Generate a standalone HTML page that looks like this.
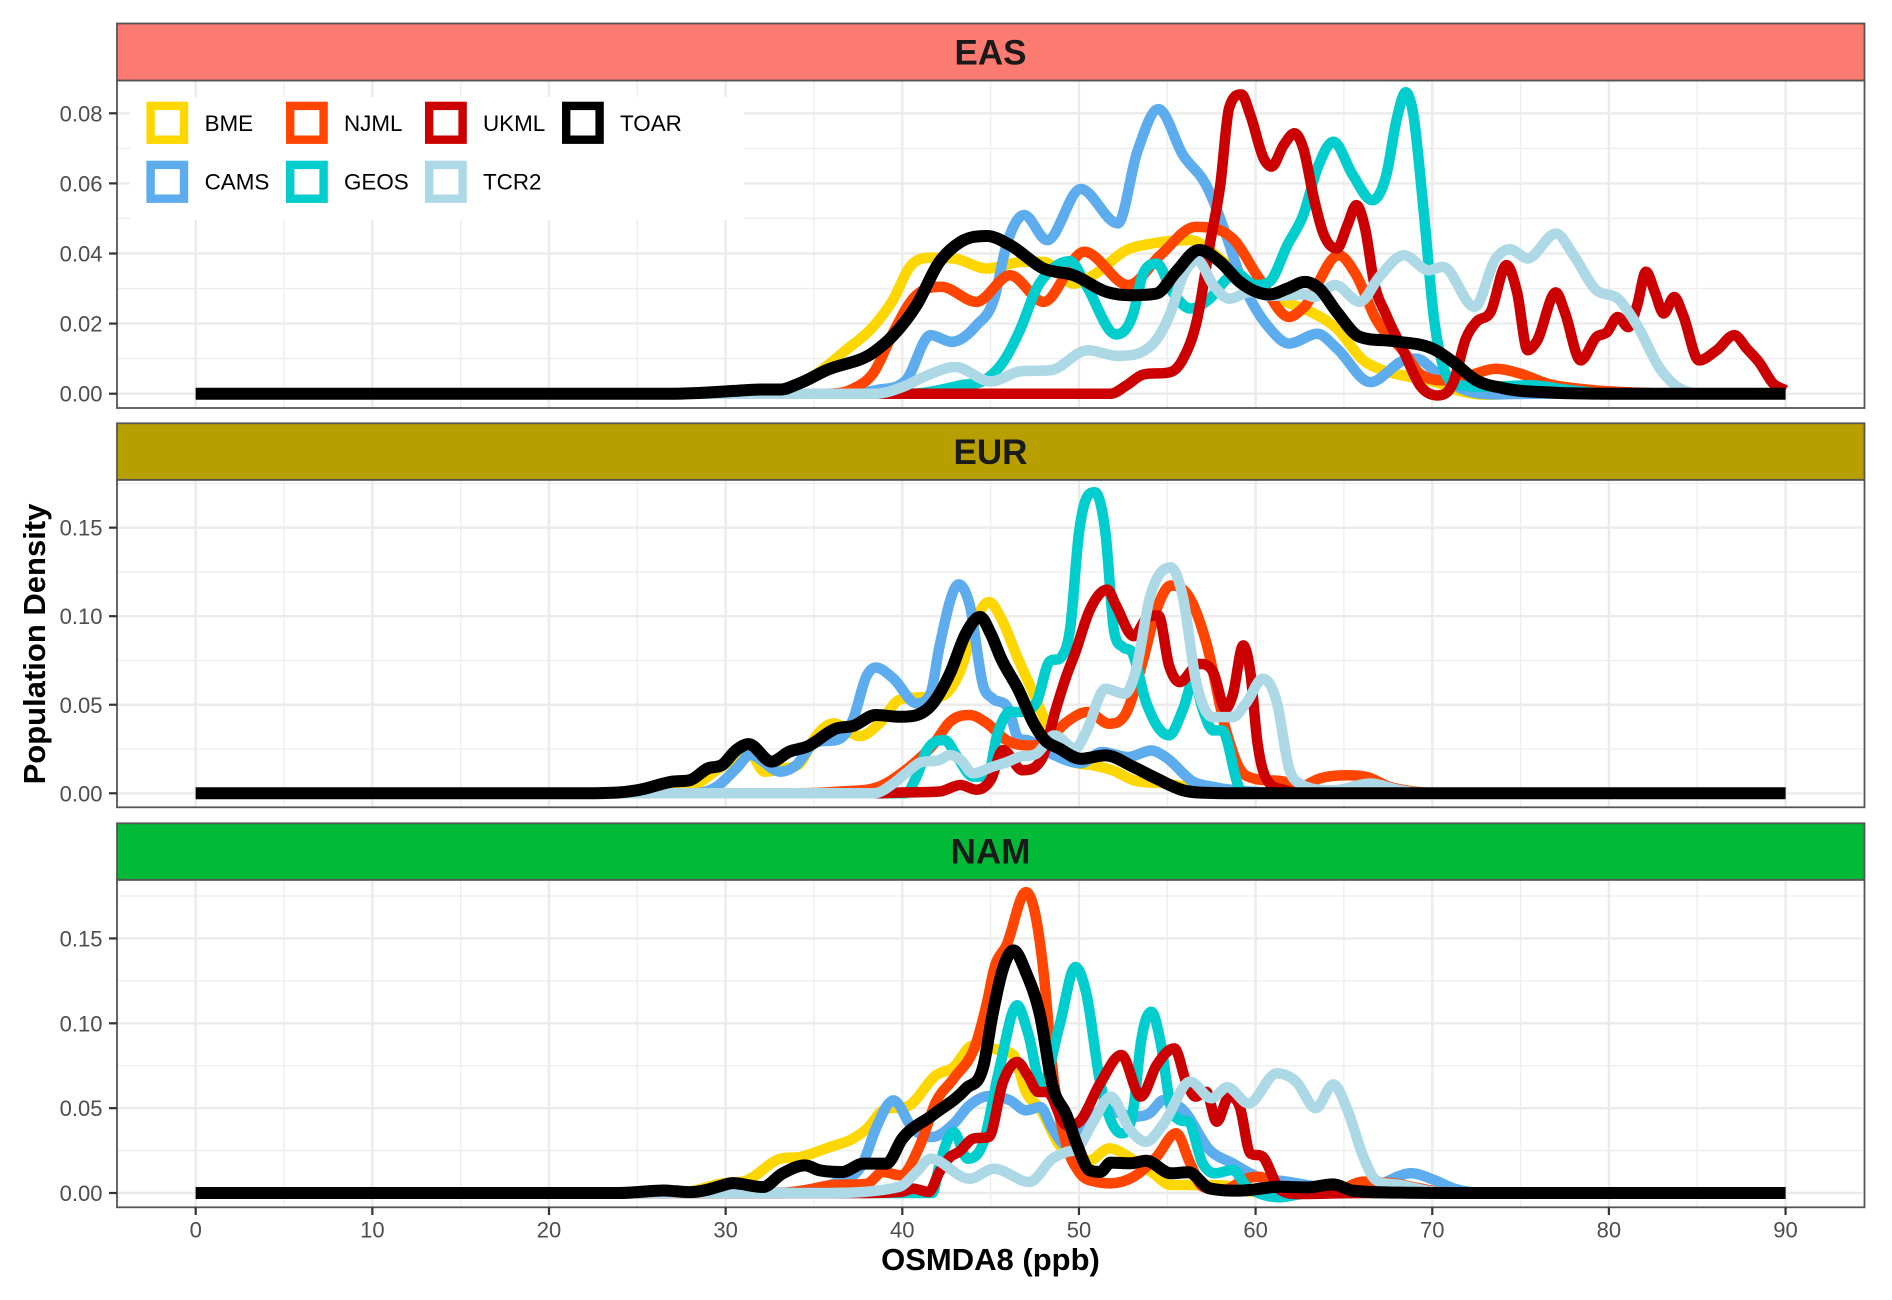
<!DOCTYPE html>
<html lang="en">
<head>
<meta charset="utf-8">
<title>Population density of OSMDA8 by region</title>
<style>
html,body{margin:0;padding:0;background:#fff;width:1892px;height:1300px;overflow:hidden}
svg{display:block;font-family:"Liberation Sans",Arial,sans-serif}
</style>
</head>
<body>
<svg id="chart" width="1892" height="1300" viewBox="0 0 1892 1300">
  <g id="panels"></g>
  <text x="990.5" y="1270" font-size="31" font-weight="700" text-anchor="middle" fill="#000">OSMDA8 (ppb)</text>
  <text transform="translate(45 644) rotate(-90)" font-size="31" font-weight="700" text-anchor="middle" fill="#000">Population Density</text>
  <g id="legend"></g>
</svg>
<script>
// ---- Data: density values, [OSMDA8 ppb, density] ----
const xTicks = [0,10,20,30,40,50,60,70,80,90];
const xMinorTicks = [5,15,25,35,45,55,65,75,85];
const easTicks = [0,0.02,0.04,0.06,0.08];
const easMinorTicks = [0.01,0.03,0.05,0.07];
const eurTicks = [0,0.05,0.10,0.15];
const eurMinorTicks = [0.025,0.075,0.125,0.175];
const namTicks = [0,0.05,0.10,0.15];
const namMinorTicks = [0.025,0.075,0.125,0.175];

const easBME = [[0,0],[29,0],[31,.0002],[32,.0004],[33,.001],[34.2,.003],[35,.0052],[36.7,.012],[38.5,.02],[39.5,.027],[40.4,.036],[41.6,.0388],[42.9,.0386],[44.8,.0357],[46.8,.0376],[48,.0376],[49.7,.0314],[50.8,.0338],[52.7,.041],[54.2,.0429],[56.3,.0438],[58.2,.0376],[59.8,.031],[61.8,.026],[63.3,.0229],[64.6,.0186],[66.1,.0095],[67.2,.0067],[68.7,.0048],[70.2,.0033],[71.4,.001],[73,-.0003],[75,0],[90,0]];
const easCAMS = [[0,0],[36,0],[38.5,.001],[40.2,.0038],[41.6,.0167],[42.8,.0148],[44.2,.0195],[45.2,.0271],[45.9,.0424],[46.9,.051],[48.2,.0438],[50.1,.0584],[52.2,.0486],[53.3,.069],[54.5,.0812],[55.9,.068],[57.2,.0595],[58.4,.0443],[59.1,.0338],[60.8,.0186],[61.9,.0143],[63.5,.0171],[64.6,.0129],[66.5,.0033],[68.4,.0095],[69.1,.01],[70.2,.0062],[71.4,.002],[73.6,-.0002],[76,0],[90,0]];
const easNJML = [[0,0],[35.7,0],[37.2,.0014],[38.4,.0062],[39.5,.0176],[40.6,.0271],[42.2,.0305],[44.2,.0262],[46.1,.0338],[48,.0262],[50.3,.0405],[52.8,.031],[54.6,.0395],[56.6,.0476],[58.7,.0443],[60.2,.0329],[61.9,.0219],[62.7,.0245],[64.7,.0395],[65.7,.0338],[66.8,.0214],[68.4,.0119],[69.3,.0057],[70.8,.0038],[72.1,.0052],[73.6,.0071],[75,.0057],[76.5,.0029],[78.7,.0012],[81.6,.0003],[85,0],[90,0]];
const easGEOS = [[0,0],[40.4,0],[43.3,.0024],[44.8,.0043],[45.7,.009],[46.7,.0186],[47.6,.03],[48.5,.0357],[49.5,.0378],[50.4,.031],[52.1,.0169],[53.1,.0233],[53.6,.0338],[54.4,.0371],[55.3,.029],[56.3,.0243],[57.4,.0271],[58.4,.0329],[58.9,.0343],[60,.031],[60.8,.032],[61.8,.0424],[62.7,.051],[63.5,.0643],[64.4,.0719],[65.5,.0624],[66.6,.0552],[67.4,.0624],[68,.0786],[68.5,.086],[68.9,.0805],[69.5,.0529],[70.1,.0214],[70.6,.0081],[71.6,.0024],[73.3,.002],[75.5,.0024],[77.8,.001],[80,0],[90,0]];
const easUKML = [[0,0],[51.8,0],[52.7,.0024],[53.6,.0054],[55.2,.0062],[55.9,.01],[56.7,.0214],[57.4,.0424],[58,.0595],[58.5,.0815],[59.2,.0854],[59.7,.0795],[60.5,.0667],[60.9,.0648],[61.6,.071],[62.2,.0743],[62.7,.07],[63.3,.0557],[63.8,.0462],[64.6,.0414],[65.2,.0481],[65.7,.0538],[66.2,.0471],[66.7,.0319],[67.4,.0224],[68.4,.0119],[69.3,.0024],[70.3,-.0005],[71.2,.0033],[71.9,.0157],[72.5,.0205],[73.3,.0233],[74.2,.0367],[74.8,.029],[75.4,.0124],[75.9,.0148],[77,.0289],[77.5,.0233],[78.4,.0095],[79.3,.0162],[79.9,.0176],[80.5,.0219],[81.1,.019],[81.6,.0252],[82.1,.0348],[82.6,.029],[83.1,.0229],[83.7,.0276],[84.2,.0224],[85.1,.0095],[86.1,.0124],[87.1,.0167],[87.8,.0129],[88.5,.009],[89.3,.0029],[90,.001]];
const easTCR2 = [[0,0],[38.5,0],[40,.0019],[41.4,.0052],[43,.0076],[45,.0035],[46.7,.0064],[48.4,.0067],[50.5,.0124],[52.2,.0108],[54.2,.0143],[55.2,.0233],[55.9,.0338],[56.7,.0381],[57.6,.031],[58.5,.0271],[59.7,.029],[60.8,.0279],[62.8,.0283],[63.3,.0276],[64.5,.031],[65.9,.0262],[67,.0333],[68.4,.0395],[69.8,.0352],[70.6,.0362],[72.4,.0248],[73.6,.0386],[74.4,.0412],[75.4,.0386],[77,.0457],[78,.0395],[79.2,.03],[80.6,.0267],[81.6,.0195],[82.9,.0071],[84.2,.001],[85.5,0],[90,0]];
const easTOAR = [[0,0],[27,0],[28.5,.0002],[30.5,.0008],[32,.0012],[33.1,.0012],[34.2,.003],[35.7,.0067],[38.4,.0119],[39.5,.0167],[40.8,.0252],[42.1,.0376],[43.3,.0433],[44.8,.045],[46.1,.0424],[48,.0357],[49.7,.0338],[51.6,.029],[52.9,.0281],[54.4,.0286],[55.5,.0348],[56.8,.041],[58,.0376],[59.1,.0319],[60.8,.0283],[61.8,.03],[62.8,.0319],[63.6,.03],[64.6,.0233],[65.9,.0162],[67.8,.015],[70.2,.0124],[71.2,.009],[72.5,.0038],[74,.0016],[76.8,.0003],[80,0],[90,0]];

const eurBME = [[0,0],[25,0],[27,.001],[28.3,.0047],[29.5,.0132],[30.6,.0197],[31.4,.0216],[32.2,.0122],[33.3,.0141],[34.2,.0169],[35.1,.032],[36.1,.0395],[37.6,.0323],[38.7,.0395],[39.8,.0526],[40.8,.0541],[42.1,.0545],[43.3,.0695],[44.2,.0987],[44.9,.108],[45.6,.0987],[46.5,.0771],[47.4,.057],[48.3,.0365],[48.9,.027],[49.7,.0177],[50.8,.0158],[51.9,.013],[53.1,.0073],[54.9,.0055],[56.8,.0026],[58.7,.0006],[60,0],[90,0]];
const eurCAMS = [[0,0],[28,0],[29.5,.0038],[30.6,.014],[31.4,.0216],[33.1,.0122],[34,.016],[35,.0282],[36.5,.031],[37.2,.0414],[38,.0667],[38.5,.071],[39.5,.0648],[40.8,.0508],[41.6,.0564],[42.1,.0827],[43.2,.118],[43.8,.107],[44.6,.06],[45.1,.0536],[46,.0477],[46.6,.0308],[47.1,.03],[48.5,.022],[50.1,.017],[51.3,.0233],[52.8,.0205],[54.1,.0242],[54.9,.0205],[56.5,.0064],[57.6,.0036],[60.6,.0005],[63,0],[90,0]];
const eurNJML = [[0,0],[34,0],[36.5,.001],[38.7,.0038],[40.2,.0132],[41.8,.0282],[42.7,.0404],[43.8,.0442],[44.8,.0395],[45.9,.03],[46.7,.0273],[47.4,.027],[48.3,.0308],[49.3,.0402],[50.5,.0459],[51.7,.0393],[52.7,.0459],[53.6,.074],[54.4,.104],[55.2,.1173],[56.3,.1098],[57.2,.0853],[58.3,.0365],[59.1,.0139],[59.8,.0086],[61.7,.0064],[62.5,.0036],[63.6,.0083],[65.1,.0102],[66.3,.0092],[67.6,.0036],[69.1,.0008],[71,0],[90,0]];
const eurGEOS = [[0,0],[40.2,0],[40.8,.0094],[41.4,.0244],[42.4,.03],[43.1,.0207],[44,.0094],[44.8,.0094],[45.4,.0338],[46.1,.0459],[46.6,.0459],[47.6,.0515],[48.3,.074],[49,.0769],[49.5,.0929],[50,.147],[50.9,.17],[51.5,.147],[52,.091],[52.5,.0825],[53,.0797],[53.8,.0515],[55.1,.0327],[55.9,.0477],[56.5,.064],[57,.0477],[57.6,.0355],[58.1,.0355],[59.1,.0026],[59.6,0],[90,0]];
const eurUKML = [[0,0],[38.4,0],[40.2,.0005],[42.1,.001],[43.3,.0047],[44.2,.002],[45,.0075],[45.7,.0244],[46.8,.013],[47.9,.0195],[48.7,.0477],[49.3,.0665],[49.8,.0797],[50.6,.1032],[51.6,.115],[52.1,.106],[53.1,.0887],[53.8,.0985],[54.5,.1004],[55.1,.0722],[55.7,.0628],[56.8,.0731],[57.6,.0684],[58.3,.0477],[58.7,.0553],[59.3,.0835],[59.7,.0684],[60.1,.029],[60.6,.0083],[61.7,.0017],[63,0],[90,0]];
const eurTCR2 = [[0,0],[38.4,0],[39.5,.0056],[40.2,.0113],[41,.0173],[42.1,.0188],[42.7,.0216],[43.3,.0188],[44,.0113],[45.1,.015],[45.9,.0175],[46.6,.0205],[47.6,.0224],[48.6,.0327],[49.8,.0252],[50.4,.0346],[51.5,.059],[52.6,.0562],[53.2,.0684],[54,.11],[55.2,.1276],[55.9,.11],[56.6,.0647],[57.6,.043],[58.7,.043],[59.5,.0515],[60.4,.0647],[61.2,.0515],[61.9,.0139],[62.5,.0055],[64.4,.0017],[66.5,.0055],[68.2,.0017],[70,0],[90,0]];
const eurTOAR = [[0,0],[22,0],[24,.0005],[25.1,.0019],[27,.0066],[28,.0075],[29,.0141],[29.8,.016],[30.6,.0244],[31.3,.0278],[32.6,.0179],[33.6,.0235],[34.6,.0263],[36.3,.0367],[37.2,.038],[38.5,.0442],[39.9,.0432],[41.8,.0517],[42.7,.0677],[43.6,.0902],[44.4,.0996],[45,.0902],[45.6,.076],[46.6,.058],[47.4,.0402],[48,.0308],[48.9,.0252],[50.1,.0195],[51.5,.0214],[53.1,.0148],[54.4,.0083],[55.9,.0017],[57.6,.0002],[60,0],[90,0]];

const namBME = [[0,0],[26,0],[28,.001],[29.7,.0055],[31.2,.0075],[33.1,.0202],[34.2,.0212],[35.9,.0271],[37.2,.032],[38,.0379],[38.9,.0487],[40.4,.0516],[41.9,.0693],[42.9,.0742],[44,.087],[45.5,.0841],[46.3,.0811],[47,.0595],[47.8,.0497],[48.9,.0281],[49.8,.021],[50.6,.0192],[51.7,.0263],[53.1,.0194],[54.2,.0116],[55.2,.0047],[56.8,.0047],[58.2,.0045],[59.7,.0008],[62,0],[90,0]];
const namCAMS = [[0,0],[33,0],[34.4,.0015],[36.3,.0065],[37.8,.0183],[38.5,.0379],[39.5,.0546],[40.6,.0379],[41.7,.033],[42.9,.0408],[43.8,.0516],[44.9,.0571],[46.1,.0546],[47,.0487],[47.8,.0507],[48.5,.0379],[49.3,.0281],[50.3,.038],[51.3,.049],[53.2,.045],[54,.047],[54.8,.0548],[55.9,.0489],[57.4,.0253],[58.7,.0175],[60.1,.0096],[61.8,.0067],[63.5,.0037],[65.3,.0018],[66.9,.0047],[68.8,.0116],[70.1,.0077],[71.2,.0027],[73,0],[90,0]];
const namNJML = [[0,0],[33,0],[34.4,.0015],[35.9,.0045],[38,.0055],[38.9,.0124],[39.9,.0104],[41,.0281],[41.9,.0536],[42.9,.0674],[44.2,.089],[44.8,.1125],[45.2,.1322],[45.9,.146],[47,.1773],[47.5,.1656],[48,.13],[48.5,.0733],[49.3,.0281],[50,.0124],[51,.0065],[51.8,.0057],[53.1,.0096],[54.4,.0214],[55.5,.0352],[56.3,.0175],[57,.0037],[58.2,.0018],[59.5,.0086],[60.2,.0096],[61.2,.0037],[62.9,.0008],[64.4,.0008],[66.1,.0067],[67.8,.0057],[69.3,.0027],[71,0],[90,0]];
const namGEOS = [[0,0],[41.7,0],[42.1,.0163],[42.9,.0359],[43.7,.0202],[44.6,.03],[45.5,.0733],[46.5,.1106],[47.1,.0949],[47.9,.0634],[48.9,.0988],[49.8,.1332],[50.4,.1184],[51.2,.0654],[52.4,.0352],[53.1,.0509],[53.5,.0882],[54.1,.1068],[54.6,.0901],[55.2,.0509],[55.7,.043],[56.2,.042],[57,.0175],[57.7,.0116],[58.7,.0136],[59.5,.0037],[60.2,-.0002],[61.4,-.0025],[62.9,-.0002],[65,0],[90,0]];
const namUKML = [[0,0],[37.2,0],[39.9,.0006],[40.6,.0026],[41.5,.0006],[42.1,.0124],[42.7,.0212],[43.2,.0242],[44,.032],[44.9,.033],[45.7,.0654],[46.5,.0772],[47.1,.0693],[47.7,.0595],[48.2,.0595],[49.3,.0399],[50,.0418],[51.2,.0646],[52.4,.0813],[53.5,.0568],[54.4,.0754],[55.4,.0852],[56.1,.0646],[56.6,.0568],[57.2,.0597],[57.8,.042],[58.5,.0568],[59.1,.0509],[59.7,.0234],[60.4,.0214],[61.4,.0018],[62.5,-.0006],[66,0],[90,0]];
const namTCR2 = [[0,0],[35.3,0],[39.8,.0035],[40.8,.0124],[41.6,.0202],[43.8,.0084],[45.2,.0143],[47.2,.0065],[48.5,.0202],[49.3,.0242],[49.9,.0261],[50.8,.0418],[51.8,.0568],[52.9,.0371],[53.8,.0302],[54.8,.041],[56.3,.0656],[57.5,.0558],[58.4,.0623],[59.6,.0528],[61.2,.0705],[62.3,.0656],[63.4,.05],[64.4,.064],[65.2,.0489],[66.1,.0214],[66.8,.0077],[68.2,.0047],[70.1,.0008],[72,0],[90,0]];
const namTOAR = [[0,0],[24,0],[26.5,.0015],[27.2,.001],[28,.0005],[29,.002],[29.7,.0041],[30.4,.0058],[32.1,.0035],[33.2,.0114],[34.5,.0163],[35.3,.0134],[36.6,.0124],[37.8,.0173],[39.1,.0173],[40,.032],[41.7,.0458],[43.6,.0615],[44.6,.0752],[45.1,.1047],[45.7,.1322],[46.3,.143],[47,.13],[47.8,.1047],[48.5,.0634],[49.3,.0458],[49.9,.0281],[50.6,.0134],[51.2,.0124],[51.8,.0179],[52.9,.0175],[53.8,.019],[55.2,.0116],[56.2,.0122],[57.4,.0027],[59.1,.0014],[61.4,.0037],[62.9,.0033],[64.4,.0051],[65.5,.0014],[68.2,.0002],[72,0],[90,0]];

const seriesNames = ["BME","CAMS","NJML","GEOS","UKML","TCR2","TOAR"];
const easSeries = [easBME,easCAMS,easNJML,easGEOS,easUKML,easTCR2,easTOAR];
const eurSeries = [eurBME,eurCAMS,eurNJML,eurGEOS,eurUKML,eurTCR2,eurTOAR];
const namSeries = [namBME,namCAMS,namNJML,namGEOS,namUKML,namTCR2,namTOAR];
const regionNames = ["EAS","EUR","NAM"];

// ---- Styling and layout ----
const colors = {BME:"#FFD700",CAMS:"#5CACEE",NJML:"#FF4500",GEOS:"#00CDCD",UKML:"#CC0000",TCR2:"#ADD8E6",TOAR:"#000000"};
const panelLeft = 117, panelRight = 1864.5;
const layout = [
  {strip:"#FB7A72", top:23.5, mid:80.5,  bottom:408,    textY:64.5,  zero:393.7, scale:3505, decimals:2, ticks:easTicks, minor:easMinorTicks, series:easSeries},
  {strip:"#B79F00", top:423.3,mid:479.8, bottom:807.3,  textY:464,   zero:793.3, scale:1771, decimals:2, ticks:eurTicks, minor:eurMinorTicks, series:eurSeries},
  {strip:"#00BA38", top:823.3,mid:879.8, bottom:1207.3, textY:863.5, zero:1193,  scale:1697, decimals:2, ticks:namTicks, minor:namMinorTicks, series:namSeries}
];
function xScale(v){ return 195.7 + v * 17.665; }

const NS = "http://www.w3.org/2000/svg";
function make(tag, attrs, parent){
  const el = document.createElementNS(NS, tag);
  for (const k in attrs) el.setAttribute(k, attrs[k]);
  parent.appendChild(el);
  return el;
}

// Smooth monotone cubic (Fritsch-Carlson limited) through the points
function curvePath(pts){
  const n = pts.length, m = new Array(n), d = new Array(n-1);
  for (let i=0;i<n-1;i++) d[i] = (pts[i+1][1]-pts[i][1])/(pts[i+1][0]-pts[i][0]);
  m[0] = d[0]; m[n-1] = d[n-2];
  for (let i=1;i<n-1;i++){
    if (d[i-1]*d[i] <= 0) { m[i] = 0; continue; }
    const h0 = pts[i][0]-pts[i-1][0], h1 = pts[i+1][0]-pts[i][0];
    const p = (d[i-1]*h1 + d[i]*h0)/(h0+h1);
    m[i] = Math.sign(d[i]) * Math.min(3*Math.abs(d[i-1]), 3*Math.abs(d[i]), Math.abs(p));
  }
  let s = "M" + pts[0][0].toFixed(2) + " " + pts[0][1].toFixed(2);
  for (let i=0;i<n-1;i++){
    const h = (pts[i+1][0]-pts[i][0])/3;
    s += "C" + (pts[i][0]+h).toFixed(2) + " " + (pts[i][1]+m[i]*h).toFixed(2) + " " +
         (pts[i+1][0]-h).toFixed(2) + " " + (pts[i+1][1]-m[i+1]*h).toFixed(2) + " " +
         pts[i+1][0].toFixed(2) + " " + pts[i+1][1].toFixed(2);
  }
  return s;
}

const root = document.getElementById("panels");
layout.forEach(function(p, pi){
  const region = regionNames[pi];
  const key = region.toLowerCase();
  const yScale = function(v){ return p.zero - v * p.scale; };
  const g = make("g", {}, root);
  
  

  const bg = make("rect", {x:panelLeft, y:p.mid, width:panelRight-panelLeft, height:p.bottom-p.mid, fill:"#fff"}, g);
  
  

  // gridlines
  p.minor.forEach(function(v){
    const l = make("line", {x1:panelLeft+1, x2:panelRight-2, y1:yScale(v), y2:yScale(v), stroke:"#EDEDED", "stroke-width":1.3}, g);
    
    
  });
  xMinorTicks.forEach(function(v){
    const l = make("line", {x1:xScale(v), x2:xScale(v), y1:p.mid+1, y2:p.bottom-1, stroke:"#EDEDED", "stroke-width":1.3}, g);
    
    
  });
  p.ticks.forEach(function(v){
    const l = make("line", {x1:panelLeft+1, x2:panelRight-2, y1:yScale(v), y2:yScale(v), stroke:"#EBEBEB", "stroke-width":2.4}, g);
    
    
  });
  xTicks.forEach(function(v){
    const l = make("line", {x1:xScale(v), x2:xScale(v), y1:p.mid+1, y2:p.bottom-1, stroke:"#EBEBEB", "stroke-width":2.4}, g);
    
    
  });

  // density lines
  p.series.forEach(function(data, si){
    const name = seriesNames[si];
    const pts = data.map(function(d){ return [xScale(d[0]), yScale(d[1])]; });
    const path = make("path", {d:curvePath(pts), fill:"none", stroke:colors[name], "stroke-width":name==="TOAR"?12:10.5, "stroke-linejoin":"round", "stroke-linecap":"butt"}, g);
    
    
  });

  // frame and strip
  const frame = make("rect", {x:panelLeft, y:p.mid, width:panelRight-panelLeft, height:p.bottom-p.mid, fill:"none", stroke:"#555", "stroke-width":1.8}, g);
  
  

  const strip = make("rect", {x:panelLeft, y:p.top, width:panelRight-panelLeft, height:p.mid-p.top, fill:p.strip, stroke:"#555", "stroke-width":1.8}, g);
  
  

  const stripText = make("text", {x:990.5, y:p.textY, "font-size":35, "font-weight":700, "text-anchor":"middle", fill:"#1A1A1A"}, g);
  stripText.textContent = region;
  
  

  // y axis
  p.ticks.forEach(function(v){
    const t = make("line", {x1:109, x2:panelLeft, y1:yScale(v), y2:yScale(v), stroke:"#333", "stroke-width":2.2}, g);
    
    
    const lab = make("text", {x:102.5, y:yScale(v)+8, "font-size":22, "text-anchor":"end", fill:"#4D4D4D"}, g);
    lab.textContent = v.toFixed(p.decimals);
    
    
  });
});

// x axis (bottom panel only)
const xAxis = make("g", {}, root);


xTicks.forEach(function(v){
  const t = make("line", {x1:xScale(v), x2:xScale(v), y1:1207.3, y2:1215, stroke:"#333", "stroke-width":2.2}, xAxis);
  
  
  const lab = make("text", {x:xScale(v), y:1237.5, "font-size":22, "text-anchor":"middle", fill:"#4D4D4D"}, xAxis);
  lab.textContent = String(v);
  
  
});

// legend
const legendRows = [["BME","NJML","UKML","TOAR"],["CAMS","GEOS","TCR2"]];
const legendKeyX = [146.4,286,425,562];
const legendTextX = [204.6,344,483,620];
const legendKeyY = [101.7,160.7];
const legendBaseline = [131,189.5];
const legendRoot = document.getElementById("legend");
const legendBg = make("rect", {x:130, y:97, width:614, height:123, fill:"#fff"}, legendRoot);


legendRows.forEach(function(row, r){
  row.forEach(function(name, c){
    const key = make("rect", {x:legendKeyX[c]+4.2, y:legendKeyY[r]+4.2, width:33.4, height:33.8, fill:"#fff", stroke:colors[name], "stroke-width":8.4}, legendRoot);
    
    
    const lab = make("text", {x:legendTextX[c], y:legendBaseline[r], "font-size":22.4, fill:"#000"}, legendRoot);
    lab.textContent = name;
    
    
  });
});
</script>
</body>
</html>
